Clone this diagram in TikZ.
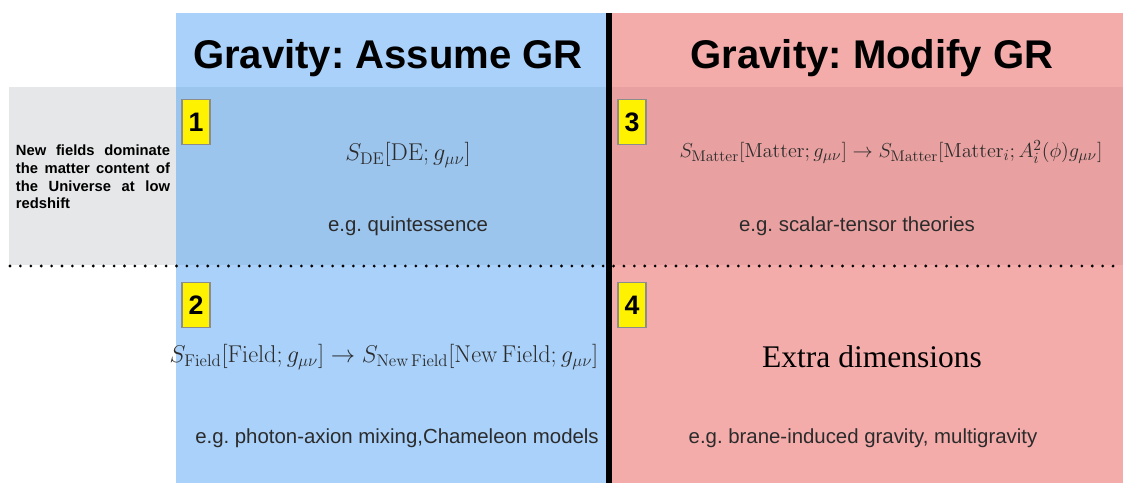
\documentclass[tikz,border=0pt]{standalone}
\usepackage[no-math]{fontspec}
\setmainfont{Liberation Sans}
\newfontfamily\serifface{Liberation Serif}
\usepackage{amsmath}
\usetikzlibrary{positioning}
\definecolor{gravblue}{HTML}{A9D1FA}
\definecolor{gravbluedark}{HTML}{9CC5EE}
\definecolor{gravred}{HTML}{F4ACAB}
\definecolor{gravreddark}{HTML}{E8A1A0}
\definecolor{bandgray}{HTML}{E6E7E8}
\definecolor{textgray}{HTML}{2B2B2B}
\tikzset{
    header/.style={
        inner sep=0pt, text=black, font=\fontsize{28.5}{32}\selectfont\bfseries\frenchspacing
    },
    numbox/.style={
        rectangle, draw=black!45, line width=1.1pt, fill=yellow, minimum width=0.7cm,
        minimum height=1.125cm, inner sep=0pt, font=\fontsize{19}{22}\selectfont\bfseries
    },
    action/.style={
        inner sep=0pt, text=textgray
    },
    example/.style={
        inner sep=0pt, text=textgray, font=\fontsize{14.5}{17}\selectfont\frenchspacing
    },
    sidenote/.style={
        inner sep=0pt, text width=3.85cm, align=justify, font=\fontsize{10.5}{12.6}\selectfont\bfseries
    },
    divider/.style={
        line width=2.2pt, dash pattern=on 0pt off 7.4pt, line cap=round
    },
    splitter/.style={
        line width=4.2pt, draw=black
    }
}

\begin{document}
\begin{tikzpicture}[x=0.025cm, y=-0.025cm]
    \useasboundingbox (0,0) rectangle (1123,483);
    % columns and shaded band
    \fill[gravblue] (176,13) rectangle (607,483);
    \fill[gravred] (611,13) rectangle (1123,483);
    \fill[bandgray] (9,87) rectangle (176,265);
    \fill[gravbluedark] (176,87) rectangle (607,265);
    \fill[gravreddark] (611,87) rectangle (1123,265);

    \coordinate (split top) at (609,13);
    \coordinate (split bottom) at (609,483);
    \coordinate (band left) at (10,266);
    \coordinate (band right) at (1123,266);
    \draw[splitter] (split top) -- (split bottom);
    \draw[divider] (band left) -- (band right);

    \node[header] (assume) at (388,58) {Gravity: Assume GR};
    \node[header] (modify) at (872,58) {Gravity: Modify GR};

    \node[sidenote] (note) at (93,177) {New fields dominate the matter content of the Universe at low redshift};

    \node[numbox] (one) at (196,122) {1};
    \node[numbox] (three) at (632,122) {3};
    \node[numbox] (two) at (196,305) {2};
    \node[numbox] (four) at (632,305) {4};

    \node[action, font=\fontsize{18.5}{22}\selectfont] (de) at (408,155) {$S_{\mathrm{DE}}[\mathrm{DE}; g_{\mu\nu}]$};
    \node[action, font=\fontsize{15.6}{18}\selectfont] (matter) at (891,152) {$S_{\mathrm{Matter}}[\mathrm{Matter}; g_{\mu\nu}] \rightarrow S_{\mathrm{Matter}}[\mathrm{Matter}_i; A_i^2(\phi) g_{\mu\nu}]$};
    \node[action, font=\fontsize{16.4}{19}\selectfont] (field) at (384,357) {$S_{\mathrm{Field}}[\mathrm{Field}; g_{\mu\nu}] \rightarrow S_{\mathrm{New\,Field}}[\mathrm{New\,Field}; g_{\mu\nu}]$};
    \node[action, text=black, font=\serifface\fontsize{22.4}{26}\selectfont] (extra) at (872,357) {Extra dimensions};

    \node[example] (quint) at (408,226) {e.g. quintessence};
    \node[example] (scalar) at (857,226) {e.g. scalar-tensor theories};
    \node[example] (axion) at (397,438) {e.g. photon-axion mixing,Chameleon models};
    \node[example] (brane) at (863,438) {e.g. brane-induced gravity, multigravity};
\end{tikzpicture}
\end{document}
